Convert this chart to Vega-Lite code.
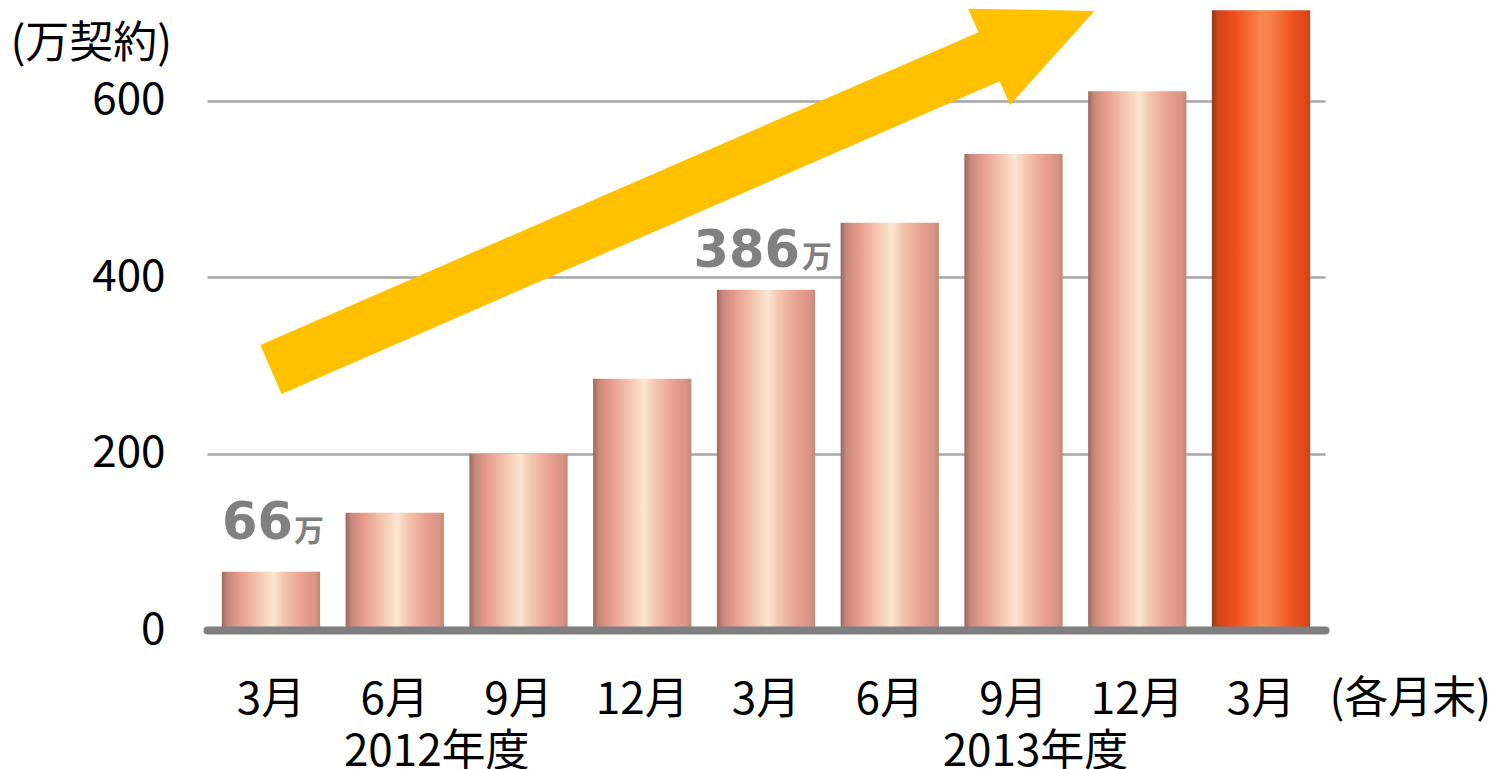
{
  "$schema": "https://vega.github.io/schema/vega-lite/v6.json",
  "autosize": {"type": "none"},
  "padding": {"left": 207, "top": 4, "right": 169, "bottom": 139},
  "width": 1118,
  "height": 626,
  "background": "white",
  "config": {"view": {"stroke": null}, "font": "Noto Sans CJK JP"},
  "datasets": {
    "bars": [
      {"period": "2012/3月", "value": 66, "hl": false},
      {"period": "2012/6月", "value": 133, "hl": false},
      {"period": "2012/9月", "value": 200, "hl": false},
      {"period": "2012/12月", "value": 285, "hl": false},
      {"period": "2013/3月", "value": 386, "hl": false},
      {"period": "2013/6月", "value": 462, "hl": false},
      {"period": "2013/9月", "value": 540, "hl": false},
      {"period": "2013/12月", "value": 611, "hl": false},
      {"period": "2014/3月", "value": 703, "hl": true}
    ]
  },
  "layer": [
    {
      "data": {"name": "bars"},
      "transform": [{"filter": "!datum.hl"}],
      "mark": {
        "type": "bar",
        "color": {
          "gradient": "linear", "x1": 0, "x2": 1, "y1": 0, "y2": 0,
          "stops": [
            {"offset": 0, "color": "#9c6a5e"},
            {"offset": 0.06, "color": "#c8887a"},
            {"offset": 0.2, "color": "#e8a090"},
            {"offset": 0.42, "color": "#f6d0b8"},
            {"offset": 0.52, "color": "#fbe6d2"},
            {"offset": 0.62, "color": "#f4c8b0"},
            {"offset": 0.82, "color": "#e8a090"},
            {"offset": 0.95, "color": "#d89484"},
            {"offset": 1, "color": "#c08878"}
          ]
        }
      },
      "encoding": {
        "x": {
          "field": "period", "type": "nominal",
          "scale": {
            "domain": ["2012/3月", "2012/6月", "2012/9月", "2012/12月", "2013/3月", "2013/6月", "2013/9月", "2013/12月", "2014/3月"],
            "paddingInner": 0.206, "paddingOuter": 0.12
          },
          "axis": {
            "title": "(各月末)", "titleX": 1122, "titleY": 82.7, "titleAlign": "left", "titleBaseline": "alphabetic",
            "titleFontSize": 44, "titleFontWeight": "normal", "titleColor": "#000000",
            "labelExpr": "split(datum.label,'/')[1]", "labelAngle": 0, "labelFontSize": 44, "labelColor": "#000000",
            "labelPadding": 48, "labelBaseline": "top", "ticks": false, "tickSize": 0,
            "domainColor": "#7f7f7f", "domainWidth": 8, "domainCap": "round", "zindex": 1
          }
        },
        "y": {
          "field": "value", "type": "quantitative",
          "scale": {"domain": [0, 710], "nice": false, "zero": true},
          "axis": {
            "title": "(万契約)", "titleAngle": 0, "titleX": -197, "titleY": 40, "titleAlign": "left", "titleBaseline": "middle",
            "titleFontSize": 44, "titleFontWeight": "normal", "titleColor": "#000000",
            "values": [0, 200, 400, 600], "labelFontSize": 44, "labelColor": "#000000", "labelPadding": 42,
            "ticks": false, "domain": false, "grid": true, "gridColor": "#a6a6a6", "gridWidth": 2.5, "zindex": 0
          }
        }
      }
    },
    {
      "data": {"name": "bars"},
      "transform": [{"filter": "datum.hl"}],
      "mark": {
        "type": "bar",
        "color": {
          "gradient": "linear", "x1": 0, "x2": 1, "y1": 0, "y2": 0,
          "stops": [
            {"offset": 0, "color": "#8c3a20"},
            {"offset": 0.06, "color": "#d04418"},
            {"offset": 0.25, "color": "#f05020"},
            {"offset": 0.5, "color": "#f88850"},
            {"offset": 0.6, "color": "#f78048"},
            {"offset": 0.8, "color": "#f05522"},
            {"offset": 0.95, "color": "#e04818"},
            {"offset": 1, "color": "#c84418"}
          ]
        }
      },
      "encoding": {
        "x": {"field": "period", "type": "nominal"},
        "y": {"field": "value", "type": "quantitative"}
      }
    },
    {
      "data": {"name": "bars"},
      "transform": [{"filter": "datum.period == '2012/3月'"}],
      "layer": [
        {
          "mark": {"type": "text", "font": "DejaVu Sans", "fontWeight": "bold", "fontSize": 51, "color": "#808080", "align": "right", "baseline": "alphabetic", "dx": 22, "dy": -33},
          "encoding": {"x": {"field": "period", "type": "nominal"}, "y": {"field": "value", "type": "quantitative"}, "text": {"field": "value", "type": "quantitative"}}
        },
        {
          "mark": {"type": "text", "font": "Noto Sans CJK JP", "fontWeight": "bold", "fontSize": 30, "color": "#808080", "align": "left", "baseline": "alphabetic", "dx": 23, "dy": -31, "text": "万"},
          "encoding": {"x": {"field": "period", "type": "nominal"}, "y": {"field": "value", "type": "quantitative"}}
        }
      ]
    },
    {
      "data": {"name": "bars"},
      "transform": [{"filter": "datum.period == '2013/3月'"}],
      "layer": [
        {
          "mark": {"type": "text", "font": "DejaVu Sans", "fontWeight": "bold", "fontSize": 51, "color": "#808080", "align": "right", "baseline": "alphabetic", "dx": 34, "dy": -23},
          "encoding": {"x": {"field": "period", "type": "nominal"}, "y": {"field": "value", "type": "quantitative"}, "text": {"field": "value", "type": "quantitative"}}
        },
        {
          "mark": {"type": "text", "font": "Noto Sans CJK JP", "fontWeight": "bold", "fontSize": 30, "color": "#808080", "align": "left", "baseline": "alphabetic", "dx": 36, "dy": -23, "text": "万"},
          "encoding": {"x": {"field": "period", "type": "nominal"}, "y": {"field": "value", "type": "quantitative"}}
        }
      ]
    },
    {
      "data": {"values": [{}]},
      "mark": {"type": "text", "fontSize": 44, "color": "#000000", "align": "center", "baseline": "alphabetic", "dx": 42, "text": "2012年度"},
      "encoding": {"x": {"datum": "2012/6月", "type": "nominal"}, "y": {"datum": -154, "type": "quantitative"}}
    },
    {
      "data": {"values": [{}]},
      "mark": {"type": "text", "fontSize": 44, "color": "#000000", "align": "center", "baseline": "alphabetic", "dx": 22, "text": "2013年度"},
      "encoding": {"x": {"datum": "2013/9月", "type": "nominal"}, "y": {"datum": -154, "type": "quantitative"}}
    },
    {
      "data": {"values": [{}]},
      "mark": {
        "type": "point",
        "shape": "M0,-0.0594 L1.744,-0.0594 L1.744,-0.1169 L2,0 L1.744,0.1169 L1.744,0.0594 L0,0.0594 Z",
        "size": 806674, "angle": 336.47, "filled": true, "fill": "#FFC000", "opacity": 1, "strokeWidth": 0
      },
      "encoding": {"x": {"datum": "2012/3月", "type": "nominal"}, "y": {"datum": 295.5, "type": "quantitative"}}
    }
  ]
}
